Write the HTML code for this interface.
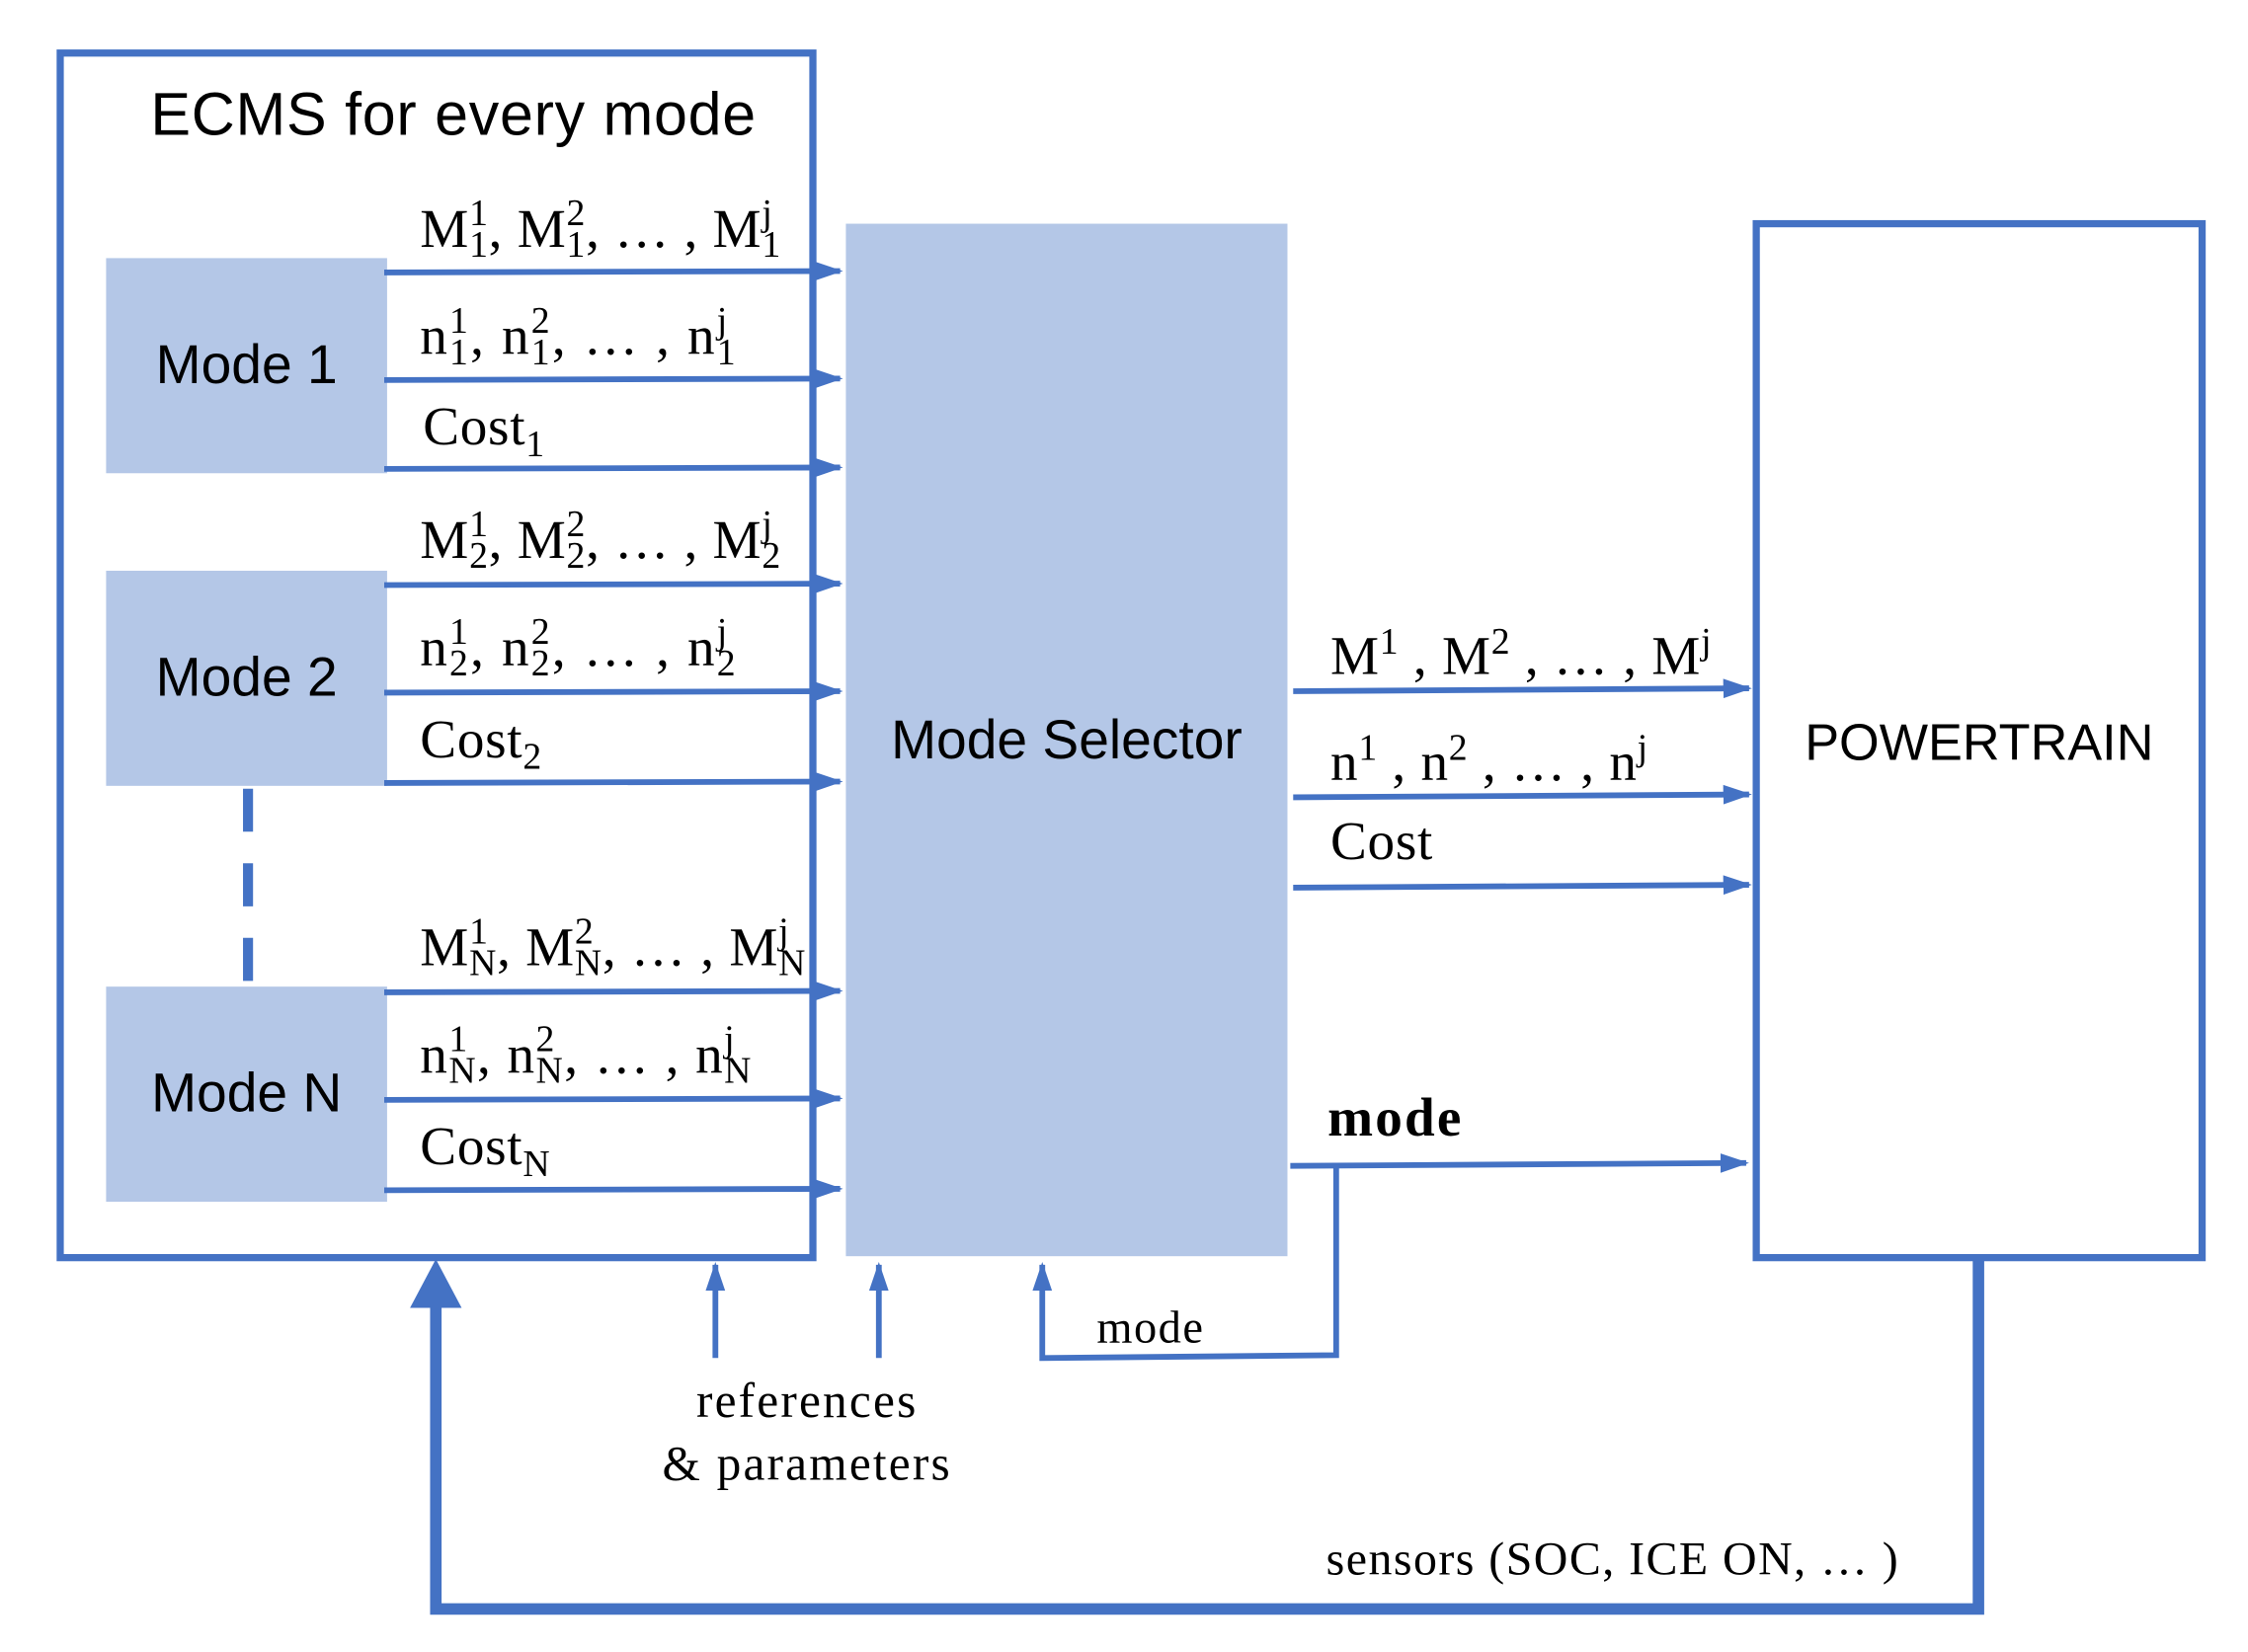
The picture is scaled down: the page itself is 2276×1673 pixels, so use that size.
<!DOCTYPE html>
<html><head><meta charset="utf-8">
<style>
html,body{margin:0;padding:0;background:#fff;}
#wrap{position:relative;width:2276px;height:1673px;overflow:hidden;}
#s{position:absolute;left:0;top:0;width:1568px;height:1152px;transform:scale(1.45153,1.45226);transform-origin:0 0;}
.t{position:absolute;white-space:nowrap;color:#000;}
.sans{font-family:"Liberation Sans",sans-serif;}
.ser{font-family:"Liberation Serif",serif;font-size:38px;line-height:40px;letter-spacing:0.5px;}
.st{display:inline-flex;flex-direction:column;vertical-align:middle;font-size:26px;line-height:22px;margin-top:-6px;}
.sp{font-size:26px;vertical-align:14px;}
.sb{font-size:26px;vertical-align:-8px;}
</style></head><body>
<div id="wrap"><div id="s">
<svg width="1568" height="1152" style="position:absolute;left:0;top:0">
<defs>
<marker id="a" markerWidth="5" markerHeight="4" refX="4.5" refY="2" orient="auto" markerUnits="strokeWidth"><path d="M0,0.3 L5,2 L0,3.7 z" fill="#4472C4"/></marker>
</defs>
<rect x="42" y="37" width="525" height="840" fill="none" stroke="#4472C4" stroke-width="5"/>
<rect x="74" y="180" width="196" height="150" fill="#B4C7E7"/>
<rect x="74" y="398" width="196" height="150" fill="#B4C7E7"/>
<rect x="74" y="688" width="196" height="150" fill="#B4C7E7"/>
<line x1="173" y1="550" x2="173" y2="688" stroke="#4472C4" stroke-width="7" stroke-dasharray="30,22"/>
<rect x="590" y="156" width="308" height="720" fill="#B4C7E7"/>
<rect x="1225" y="156" width="311" height="721" fill="#fff" stroke="#4472C4" stroke-width="5"/>
<g stroke="#4472C4" stroke-width="4" fill="none" marker-end="url(#a)">
<line x1="268" y1="190" x2="586" y2="189"/>
<line x1="268" y1="265" x2="586" y2="264"/>
<line x1="268" y1="327" x2="586" y2="326"/>
<line x1="268" y1="408" x2="586" y2="407"/>
<line x1="268" y1="483" x2="586" y2="482"/>
<line x1="268" y1="546" x2="586" y2="545"/>
<line x1="268" y1="692" x2="586" y2="691"/>
<line x1="268" y1="767" x2="586" y2="766"/>
<line x1="268" y1="830" x2="586" y2="829"/>
<line x1="902" y1="482" x2="1220" y2="480"/>
<line x1="902" y1="556" x2="1220" y2="554"/>
<line x1="902" y1="619" x2="1220" y2="617"/>
<line x1="900" y1="813" x2="1218" y2="811"/>
<polyline points="932,813 932,945 727,947 727,882"/>
<line x1="499" y1="947" x2="499" y2="882"/>
<line x1="613" y1="947" x2="613" y2="882"/>
</g>
<polyline points="1380,877 1380,1122 304,1122 304,905" fill="none" stroke="#4472C4" stroke-width="8"/>
<path d="M286,912 L304,878 L322,912 z" fill="#4472C4"/>
</svg>

<div class="t sans" style="left:105px;top:56px;font-size:42px;letter-spacing:0.5px;">ECMS for every mode</div>
<div class="t sans" style="left:74px;width:196px;text-align:center;top:234px;font-size:38px;">Mode 1</div>
<div class="t sans" style="left:74px;width:196px;text-align:center;top:452px;font-size:38px;">Mode 2</div>
<div class="t sans" style="left:74px;width:196px;text-align:center;top:742px;font-size:38px;">Mode N</div>
<div class="t sans" style="left:590px;width:308px;text-align:center;top:496px;font-size:38px;">Mode Selector</div>
<div class="t sans" style="left:1225px;width:311px;text-align:center;top:497px;font-size:36px;">POWERTRAIN</div>

<div class="t ser" style="left:293px;top:140px;">M<span class="st"><span>1</span><span>1</span></span>, M<span class="st"><span>2</span><span>1</span></span>, … , M<span class="st"><span>j</span><span>1</span></span></div>
<div class="t ser" style="left:293px;top:215px;letter-spacing:1.5px;">n<span class="st"><span>1</span><span>1</span></span>, n<span class="st"><span>2</span><span>1</span></span>, … , n<span class="st"><span>j</span><span>1</span></span></div>
<div class="t ser" style="left:295px;top:278px;">Cost<span class="sb">1</span></div>
<div class="t ser" style="left:293px;top:357px;">M<span class="st"><span>1</span><span>2</span></span>, M<span class="st"><span>2</span><span>2</span></span>, … , M<span class="st"><span>j</span><span>2</span></span></div>
<div class="t ser" style="left:293px;top:432px;letter-spacing:1.5px;">n<span class="st"><span>1</span><span>2</span></span>, n<span class="st"><span>2</span><span>2</span></span>, … , n<span class="st"><span>j</span><span>2</span></span></div>
<div class="t ser" style="left:293px;top:496px;">Cost<span class="sb">2</span></div>
<div class="t ser" style="left:293px;top:641px;">M<span class="st"><span>1</span><span>N</span></span>, M<span class="st"><span>2</span><span>N</span></span>, … , M<span class="st"><span>j</span><span>N</span></span></div>
<div class="t ser" style="left:293px;top:716px;letter-spacing:1px;">n<span class="st"><span>1</span><span>N</span></span>, n<span class="st"><span>2</span><span>N</span></span>, … , n<span class="st"><span>j</span><span>N</span></span></div>
<div class="t ser" style="left:293px;top:780px;">Cost<span class="sb">N</span></div>

<div class="t ser" style="left:928px;top:428px;">M<span class="sp">1</span> , M<span class="sp">2</span> , … , M<span class="sp">j</span></div>
<div class="t ser" style="left:928px;top:502px;">n<span class="sp">1</span> , n<span class="sp">2</span> , … , n<span class="sp">j</span></div>
<div class="t ser" style="left:928px;top:567px;">Cost</div>
<div class="t ser" style="left:926px;top:760px;font-weight:bold;letter-spacing:1.5px;">mode</div>
<div class="t ser" style="left:765px;top:905px;font-size:32px;letter-spacing:1px;">mode</div>
<div class="t ser" style="left:430px;width:266px;text-align:center;top:956px;font-size:34px;line-height:44px;letter-spacing:1.5px;">references<br>&amp; parameters</div>
<div class="t ser" style="left:925px;top:1068px;font-size:33px;letter-spacing:1px;">sensors (SOC, ICE ON, … )</div>
</div></div>
</body></html>
